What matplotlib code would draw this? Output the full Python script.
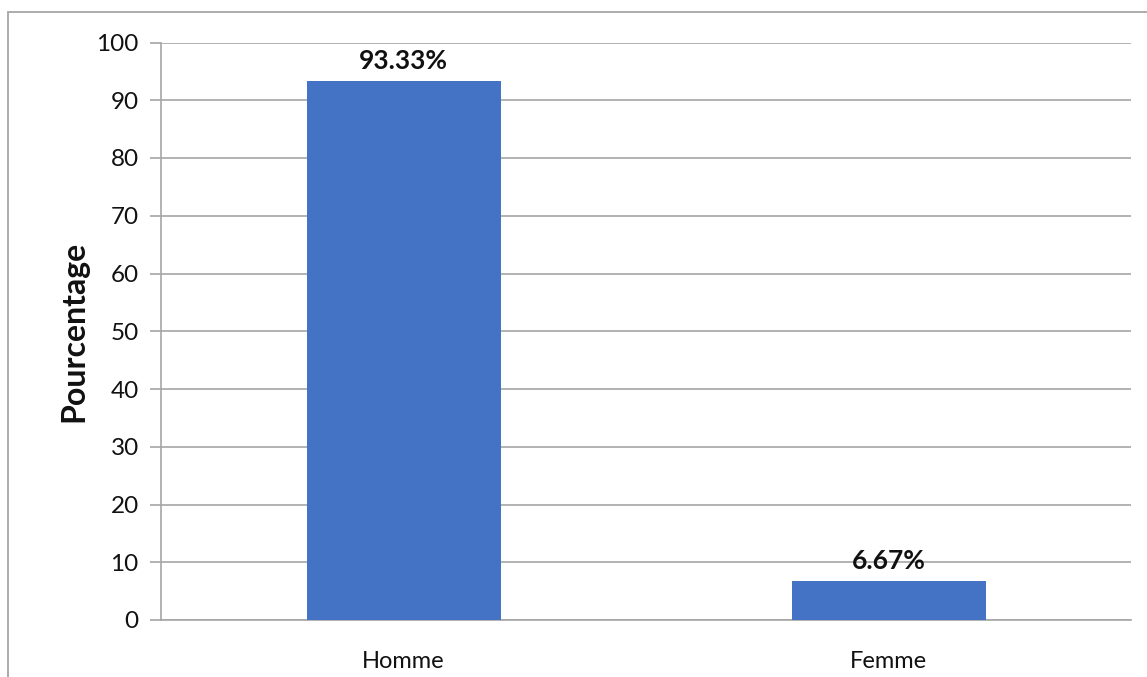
import matplotlib
matplotlib.use("Agg")
import matplotlib.pyplot as plt
from matplotlib.patches import Rectangle

categories = ["Homme", "Femme"]
percentages = [93.33, 6.67]
value_labels = ["93.33%", "6.67%"]
yticks = [0, 10, 20, 30, 40, 50, 60, 70, 80, 90, 100]

plt.rcParams["font.family"] = ["Lato", "DejaVu Sans"]

W, H = 1147, 677
fig = plt.figure(figsize=(W / 100, H / 100), dpi=100)

# outer chart frame (open at right and bottom)
fig.patches.append(Rectangle((8 / W, -0.05), 1.2, 1 - 12 / H + 0.05,
                             transform=fig.transFigure, fill=False,
                             edgecolor="#a6a6a6", linewidth=1.3))

ax = fig.add_axes([161 / W, 1 - 620 / H, (1131 - 161) / W, (620 - 42.5) / H])

x = range(len(categories))
ax.bar(x, percentages, width=0.4, color="#4472C4", zorder=3)

for xi, v, lab in zip(x, percentages, value_labels):
    ax.annotate(lab, (xi, v), xytext=(0, 6), textcoords="offset points",
                ha="center", va="bottom", fontsize=19, fontweight="bold",
                color="#111111")

ax.set_xlim(-0.5, 1.5)
ax.set_ylim(0, 100)
ax.set_yticks(yticks)
ax.set_xticks(list(x))
ax.set_xticklabels(categories)
ax.yaxis.grid(True, color="#a6a6a6", linewidth=1.2, zorder=0)
ax.set_axisbelow(True)

for s in ["top", "right"]:
    ax.spines[s].set_visible(False)
for s in ["left", "bottom"]:
    ax.spines[s].set_color("#a6a6a6")
    ax.spines[s].set_linewidth(1.2)

ax.tick_params(axis="y", length=8, width=1.2, color="#a6a6a6",
               labelsize=17.5, labelcolor="#111111", pad=8)
ax.tick_params(axis="x", length=0, labelsize=17, labelcolor="#111111", pad=22)

ax.set_ylabel("Pourcentage", fontsize=23, fontweight="bold", color="#111111",
              labelpad=6)

fig.savefig("out.png", dpi=100)
